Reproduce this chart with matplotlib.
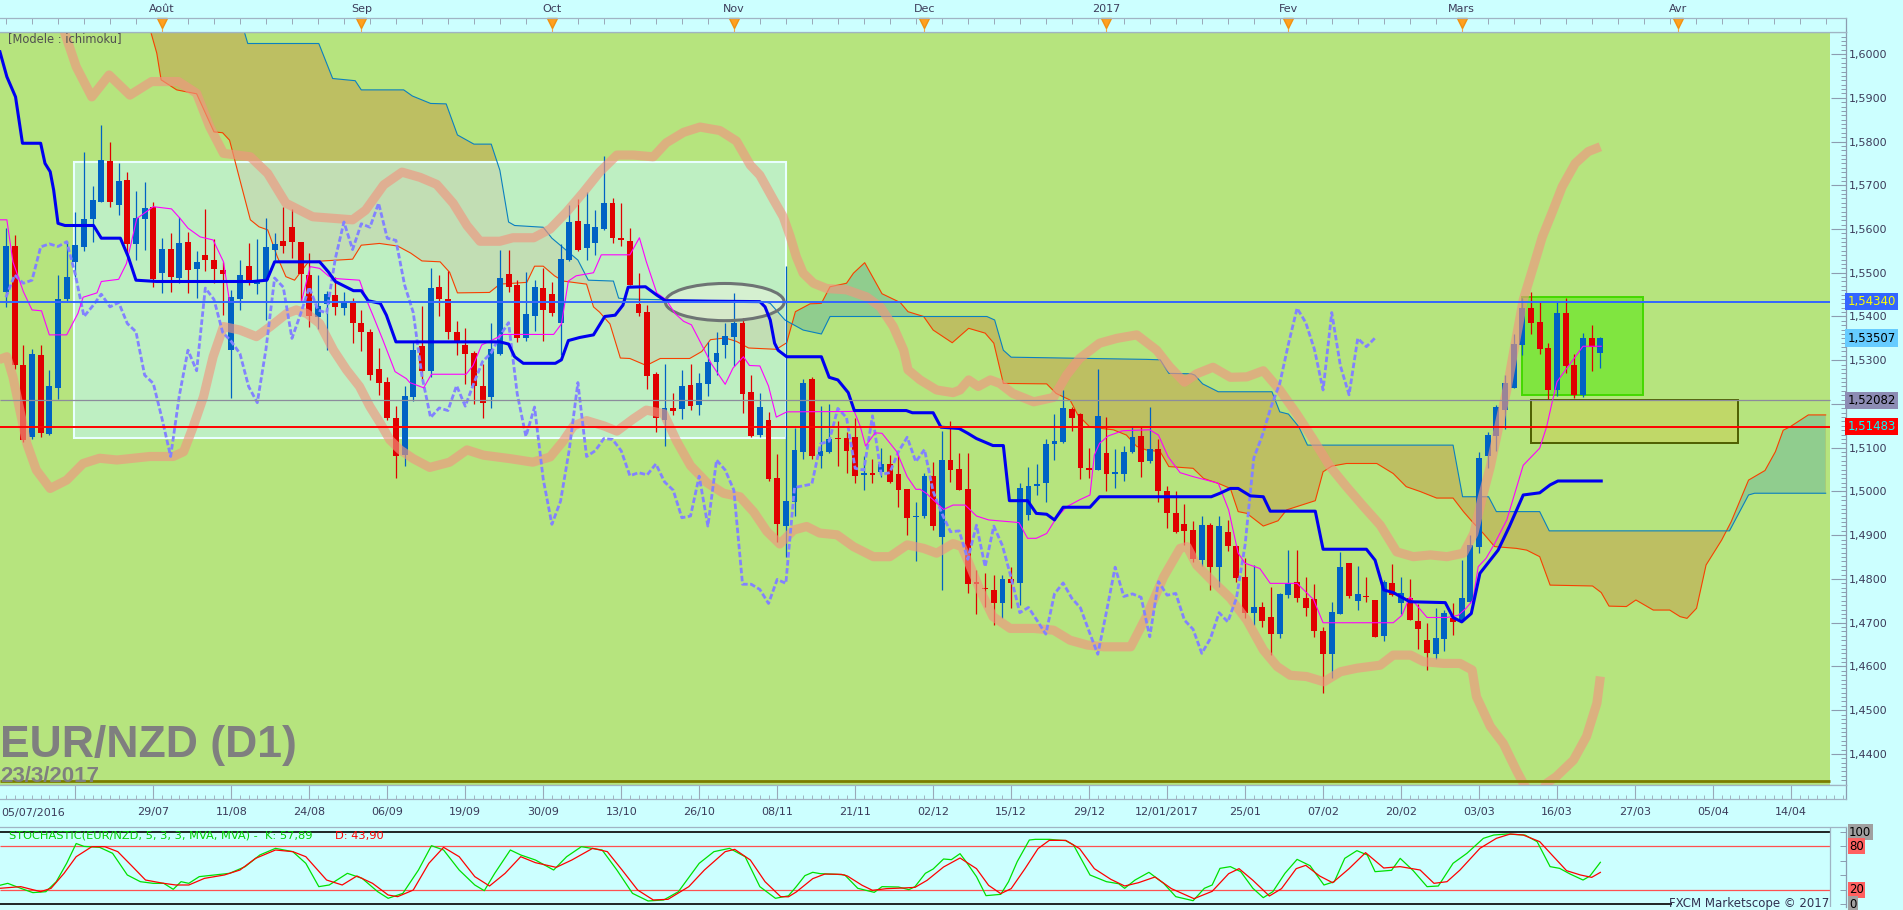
import numpy as np
import matplotlib
matplotlib.use("Agg")
import matplotlib.pyplot as plt
import matplotlib.transforms as mtransforms
from matplotlib.patches import Rectangle, Ellipse, Polygon
from matplotlib.ticker import MultipleLocator, FixedLocator, FuncFormatter

W, H = 1903, 910

# daily candles, bar 0 = 06/07/2016 ... bar 184 = 23/03/2017
opens = [1.5457, 1.5561, 1.5289, 1.5125, 1.5312, 1.5131, 1.5236, 1.5439, 1.5525, 1.5558,
         1.5622, 1.5662, 1.5756, 1.5656, 1.5712, 1.5566, 1.5624, 1.5650, 1.5499, 1.5554,
         1.5489, 1.5570, 1.5509, 1.5541, 1.5528, 1.5506, 1.5323, 1.5441, 1.5515, 1.5474,
         1.5483, 1.5553, 1.5573, 1.5605, 1.5570, 1.5495, 1.5398, 1.5429, 1.5448, 1.5420,
         1.5430, 1.5384, 1.5364, 1.5280, 1.5251, 1.5169, 1.5083, 1.5217, 1.5333, 1.5276,
         1.5467, 1.5439, 1.5364, 1.5335, 1.5317, 1.5242, 1.5215, 1.5315, 1.5496, 1.5471,
         1.5351, 1.5400, 1.5465, 1.5451, 1.5386, 1.5530, 1.5619, 1.5556, 1.5567, 1.5600,
         1.5659, 1.5579, 1.5573, 1.5429, 1.5410, 1.5268, 1.5164, 1.5190, 1.5189, 1.5244,
         1.5197, 1.5246, 1.5297, 1.5334, 1.5352, 1.5386, 1.5227, 1.5128, 1.5164, 1.5030,
         1.4921, 1.4977, 1.5091, 1.5258, 1.5080, 1.5091, 1.5123, 1.5123, 1.5124, 1.5038,
         1.5042, 1.5045, 1.5063, 1.5041, 1.5006, 1.4942, 1.4944, 1.5035, 1.4895, 1.5072,
         1.5051, 1.5006, 1.4792, 1.4780, 1.4775, 1.4746, 1.4799, 1.4790, 1.4946, 1.5013,
         1.5019, 1.5108, 1.5114, 1.5188, 1.5177, 1.5054, 1.5049, 1.5089, 1.5041, 1.5040,
         1.5091, 1.5127, 1.5070, 1.5096, 1.5001, 1.4950, 1.4925, 1.4912, 1.4843, 1.4923,
         1.4828, 1.4908, 1.4876, 1.4805, 1.4723, 1.4737, 1.4714, 1.4674, 1.4763, 1.4794,
         1.4757, 1.4754, 1.4682, 1.4628, 1.4721, 1.4837, 1.4750, 1.4760, 1.4751, 1.4670,
         1.4791, 1.4744, 1.4756, 1.4705, 1.4660, 1.4628, 1.4663, 1.4711, 1.4706, 1.4748,
         1.4874, 1.5080, 1.5127, 1.5186, 1.5236, 1.5335, 1.5419, 1.5388, 1.5329, 1.5232,
         1.5409, 1.5289, 1.5221, 1.5350, 1.5317]
highs = [1.5602, 1.5586, 1.5335, 1.5325, 1.5335, 1.5278, 1.5495, 1.5573, 1.5640, 1.5775,
         1.5698, 1.5838, 1.5800, 1.5750, 1.5730, 1.5688, 1.5707, 1.5662, 1.5579, 1.5590,
         1.5627, 1.5592, 1.5549, 1.5645, 1.5578, 1.5525, 1.5461, 1.5528, 1.5567, 1.5576,
         1.5626, 1.5590, 1.5650, 1.5646, 1.5570, 1.5544, 1.5495, 1.5458, 1.5491, 1.5457,
         1.5443, 1.5415, 1.5372, 1.5327, 1.5262, 1.5195, 1.5242, 1.5341, 1.5423, 1.5510,
         1.5494, 1.5504, 1.5390, 1.5374, 1.5321, 1.5291, 1.5384, 1.5551, 1.5553, 1.5484,
         1.5502, 1.5484, 1.5510, 1.5478, 1.5565, 1.5656, 1.5669, 1.5685, 1.5644, 1.5766,
         1.5671, 1.5659, 1.5603, 1.5500, 1.5426, 1.5274, 1.5292, 1.5225, 1.5278, 1.5291,
         1.5271, 1.5341, 1.5364, 1.5384, 1.5453, 1.5396, 1.5266, 1.5225, 1.5181, 1.5085,
         1.5515, 1.5146, 1.5257, 1.5261, 1.5195, 1.5199, 1.5162, 1.5137, 1.5167, 1.5080,
         1.5074, 1.5099, 1.5083, 1.5083, 1.5006, 1.4977, 1.5042, 1.5067, 1.5138, 1.5162,
         1.5087, 1.5089, 1.4820, 1.4814, 1.4809, 1.4809, 1.4828, 1.5020, 1.5057, 1.5063,
         1.5119, 1.5177, 1.5233, 1.5192, 1.5179, 1.5099, 1.5279, 1.5171, 1.5097, 1.5103,
         1.5148, 1.5148, 1.5192, 1.5119, 1.5012, 1.5002, 1.4971, 1.4933, 1.4944, 1.4927,
         1.4944, 1.4935, 1.4878, 1.4847, 1.4832, 1.4748, 1.4782, 1.4767, 1.4866, 1.4866,
         1.4805, 1.4788, 1.4691, 1.4748, 1.4862, 1.4837, 1.4829, 1.4804, 1.4751, 1.4798,
         1.4834, 1.4805, 1.4799, 1.4743, 1.4699, 1.4733, 1.4730, 1.4746, 1.4843, 1.4901,
         1.5091, 1.5137, 1.5198, 1.5266, 1.5361, 1.5442, 1.5457, 1.5432, 1.5340, 1.5434,
         1.5442, 1.5314, 1.5363, 1.5381, 1.5352]
lows = [1.5422, 1.5281, 1.5114, 1.5119, 1.5125, 1.5129, 1.5212, 1.5432, 1.5491, 1.5550,
        1.5571, 1.5662, 1.5651, 1.5633, 1.5543, 1.5528, 1.5552, 1.5468, 1.5454, 1.5457,
        1.5476, 1.5453, 1.5442, 1.5505, 1.5476, 1.5403, 1.5213, 1.5415, 1.5472, 1.5451,
        1.5392, 1.5529, 1.5544, 1.5533, 1.5432, 1.5375, 1.5371, 1.5323, 1.5403, 1.5403,
        1.5340, 1.5322, 1.5255, 1.5220, 1.5163, 1.5030, 1.5058, 1.5207, 1.5258, 1.5262,
        1.5400, 1.5349, 1.5313, 1.5246, 1.5199, 1.5168, 1.5191, 1.5313, 1.5455, 1.5341,
        1.5345, 1.5366, 1.5343, 1.5400, 1.5313, 1.5526, 1.5549, 1.5530, 1.5541, 1.5598,
        1.5569, 1.5561, 1.5471, 1.5400, 1.5234, 1.5136, 1.5105, 1.5175, 1.5165, 1.5187,
        1.5175, 1.5219, 1.5266, 1.5305, 1.5286, 1.5179, 1.5124, 1.5124, 1.5023, 1.4884,
        1.4850, 1.4945, 1.5075, 1.5075, 1.5053, 1.5087, 1.5058, 1.5043, 1.5019, 1.5004,
        1.5020, 1.5034, 1.5019, 1.4964, 1.4901, 1.4842, 1.4939, 1.4913, 1.4775, 1.5022,
        1.5003, 1.4767, 1.4721, 1.4737, 1.4695, 1.4710, 1.4733, 1.4741, 1.4935, 1.4992,
        1.4977, 1.5073, 1.5110, 1.5138, 1.5028, 1.5030, 1.5048, 1.5002, 1.5007, 1.5023,
        1.5087, 1.5034, 1.5064, 1.4975, 1.4916, 1.4904, 1.4878, 1.4839, 1.4830, 1.4775,
        1.4782, 1.4865, 1.4794, 1.4710, 1.4695, 1.4691, 1.4626, 1.4664, 1.4756, 1.4748,
        1.4715, 1.4668, 1.4539, 1.4573, 1.4720, 1.4756, 1.4729, 1.4748, 1.4667, 1.4659,
        1.4761, 1.4721, 1.4706, 1.4639, 1.4592, 1.4617, 1.4636, 1.4672, 1.4702, 1.4746,
        1.4859, 1.5053, 1.5093, 1.5142, 1.5236, 1.5312, 1.5361, 1.5314, 1.5211, 1.5218,
        1.5271, 1.5213, 1.5215, 1.5276, 1.5282]
closes = [1.5561, 1.5289, 1.5118, 1.5314, 1.5134, 1.5240, 1.5439, 1.5491, 1.5563, 1.5622,
          1.5666, 1.5758, 1.5662, 1.5710, 1.5566, 1.5626, 1.5647, 1.5486, 1.5555, 1.5491,
          1.5567, 1.5506, 1.5525, 1.5528, 1.5508, 1.5497, 1.5444, 1.5495, 1.5476, 1.5483,
          1.5559, 1.5566, 1.5560, 1.5571, 1.5496, 1.5400, 1.5424, 1.5451, 1.5422, 1.5432,
          1.5384, 1.5365, 1.5266, 1.5247, 1.5167, 1.5080, 1.5219, 1.5323, 1.5276, 1.5465,
          1.5439, 1.5364, 1.5343, 1.5315, 1.5240, 1.5203, 1.5325, 1.5488, 1.5467, 1.5350,
          1.5406, 1.5467, 1.5415, 1.5408, 1.5532, 1.5616, 1.5553, 1.5612, 1.5604, 1.5659,
          1.5579, 1.5574, 1.5472, 1.5409, 1.5264, 1.5169, 1.5191, 1.5185, 1.5242, 1.5195,
          1.5248, 1.5297, 1.5317, 1.5356, 1.5386, 1.5223, 1.5126, 1.5193, 1.5028, 1.4925,
          1.4978, 1.5095, 1.5249, 1.5080, 1.5093, 1.5121, 1.5119, 1.5093, 1.5036, 1.5043,
          1.5038, 1.5063, 1.5022, 1.5003, 1.4940, 1.4944, 1.5035, 1.4921, 1.5072, 1.5049,
          1.5003, 1.4788, 1.4788, 1.4776, 1.4744, 1.4799, 1.4790, 1.5009, 1.5013, 1.5017,
          1.5109, 1.5115, 1.5190, 1.5169, 1.5053, 1.5049, 1.5173, 1.5039, 1.5043, 1.5091,
          1.5124, 1.5068, 1.5096, 1.5000, 1.4950, 1.4908, 1.4910, 1.4845, 1.4923, 1.4828,
          1.4921, 1.4876, 1.4803, 1.4723, 1.4735, 1.4705, 1.4674, 1.4766, 1.4791, 1.4756,
          1.4734, 1.4680, 1.4628, 1.4725, 1.4827, 1.4760, 1.4766, 1.4758, 1.4668, 1.4794,
          1.4763, 1.4767, 1.4706, 1.4685, 1.4630, 1.4664, 1.4723, 1.4702, 1.4756, 1.4878,
          1.5076, 1.5129, 1.5194, 1.5247, 1.5337, 1.5419, 1.5386, 1.5325, 1.5232, 1.5409,
          1.5287, 1.5221, 1.5350, 1.5331, 1.5351]

# ichimoku lines, (bar, price) vertices
kijun = [(-0.7, 1.6005), (0.1, 1.5948), (1.1, 1.5902), (1.9, 1.5796), (4.0, 1.5796), (4.5, 1.5750),
         (5.1, 1.5731), (5.5, 1.5689), (6.0, 1.5613), (6.8, 1.5608), (10.1, 1.5608), (11.0, 1.5579),
         (13.2, 1.5579), (14.1, 1.5537), (15.0, 1.5483), (17.4, 1.5480), (28.5, 1.5480), (30.1, 1.5483),
         (31.0, 1.5525), (36.2, 1.5525), (37.2, 1.5502), (38.0, 1.5480), (40.1, 1.5459), (41.0, 1.5459),
         (41.8, 1.5436), (43.2, 1.5430), (43.9, 1.5403), (45.0, 1.5342), (57.0, 1.5342), (58.0, 1.5337),
         (58.7, 1.5308), (59.7, 1.5293), (63.4, 1.5293), (64.1, 1.5301), (64.9, 1.5345), (66.2, 1.5352),
         (67.8, 1.5358), (69.1, 1.5400), (70.3, 1.5403), (71.2, 1.5426), (71.8, 1.5467), (73.8, 1.5468),
         (75.1, 1.5449), (76.1, 1.5436),
         (87.0, 1.5434), (87.6, 1.5422), (88.2, 1.5392), (88.7, 1.5339), (89.1, 1.5323), (90.1, 1.5308),
         (94.1, 1.5308), (95.0, 1.5261), (96.0, 1.5255), (97.2, 1.5226), (97.9, 1.5185), (103.9, 1.5185),
         (104.6, 1.5180), (107.0, 1.5180), (107.9, 1.5147), (110.0, 1.5144), (111.0, 1.5133),
         (112.0, 1.5121), (113.9, 1.5105), (115.1, 1.5105), (115.8, 1.4979), (117.9, 1.4979),
         (118.9, 1.4950), (120.1, 1.4948), (121.0, 1.4935), (122.0, 1.4964), (125.1, 1.4964),
         (126.2, 1.4988), (139.1, 1.4988), (140.1, 1.4996), (141.3, 1.5007), (142.2, 1.5007),
         (143.6, 1.4990), (145.1, 1.4988), (145.9, 1.4955), (151.1, 1.4955), (152.0, 1.4868),
         (157.0, 1.4868), (158.0, 1.4843), (159.0, 1.4775), (160.1, 1.4769), (162.0, 1.4748),
         (166.1, 1.4746), (167.0, 1.4712), (168.0, 1.4702), (169.1, 1.4721), (170.1, 1.4813),
         (172.2, 1.4866), (173.5, 1.4920), (175.1, 1.4992), (177.0, 1.4997), (178.2, 1.5015),
         (179.1, 1.5024), (184.1, 1.5024)]
tenkan = [(-0.7, 1.5621), (0.1, 1.5621), (0.8, 1.5525), (2.0, 1.5457), (3.0, 1.5415), (4.1, 1.5413),
          (5.0, 1.5358), (7.0, 1.5358), (8.3, 1.5407), (8.9, 1.5444), (10.5, 1.5454), (11.0, 1.5480),
          (13.0, 1.5485), (13.9, 1.5521), (15.1, 1.5624), (17.0, 1.5651), (19.1, 1.5646), (20.1, 1.5624),
          (21.0, 1.5602), (22.4, 1.5582), (23.9, 1.5575), (25.1, 1.5525), (25.8, 1.5434), (34.1, 1.5434),
          (35.1, 1.5514), (36.2, 1.5510), (37.2, 1.5493), (37.8, 1.5487), (40.8, 1.5483), (41.6, 1.5438),
          (42.4, 1.5400), (43.5, 1.5346), (44.9, 1.5274), (46.2, 1.5258), (46.6, 1.5249), (48.2, 1.5237),
          (49.1, 1.5268), (53.1, 1.5268), (53.9, 1.5288), (54.9, 1.5335), (56.2, 1.5347), (57.4, 1.5359),
          (63.2, 1.5359), (64.1, 1.5383), (64.9, 1.5481), (65.8, 1.5493), (67.8, 1.5500), (68.7, 1.5541),
          (72.0, 1.5541), (73.1, 1.5580), (73.9, 1.5525), (75.1, 1.5454), (76.2, 1.5438), (77.2, 1.5407),
          (78.2, 1.5389), (79.1, 1.5381), (80.3, 1.5335), (81.4, 1.5292), (83.0, 1.5245), (83.9, 1.5282),
          (85.1, 1.5308), (85.8, 1.5288), (87.0, 1.5287), (88.0, 1.5241), (88.9, 1.5170), (90.1, 1.5182),
          (97.9, 1.5183), (98.6, 1.5148), (99.2, 1.5104), (100.3, 1.5134), (101.1, 1.5133),
          (102.8, 1.5091), (104.0, 1.5034), (105.0, 1.5005), (105.5, 1.5005), (106.2, 1.4996),
          (108.2, 1.4959), (109.3, 1.4969), (110.7, 1.4969), (112.0, 1.4944), (113.4, 1.4935),
          (116.9, 1.4929), (117.9, 1.4893), (118.9, 1.4893), (120.1, 1.4904), (121.2, 1.4939),
          (122.4, 1.4965), (123.9, 1.4981), (125.1, 1.4992), (125.6, 1.5083), (126.2, 1.5110),
          (127.2, 1.5127), (128.9, 1.5139), (132.0, 1.5141), (133.0, 1.5129), (134.1, 1.5080),
          (135.5, 1.5043), (137.0, 1.5034), (139.9, 1.5019), (141.1, 1.4958), (142.2, 1.4859),
          (143.0, 1.4836), (144.7, 1.4824), (145.9, 1.4790), (149.0, 1.4790), (150.9, 1.4753),
          (152.0, 1.4700), (160.1, 1.4700), (161.1, 1.4717), (162.0, 1.4759), (164.0, 1.4712),
          (166.3, 1.4712), (167.6, 1.4717), (168.5, 1.4733), (169.3, 1.4752), (169.9, 1.4828),
          (170.8, 1.4847), (171.8, 1.4881), (173.2, 1.4935), (173.9, 1.4981), (175.1, 1.5060),
          (177.0, 1.5099), (177.8, 1.5148), (178.4, 1.5201), (179.0, 1.5251), (180.1, 1.5281),
          (182.0, 1.5332), (184.1, 1.5332)]
senkou_a = [(-0.7, 1.6400), (10.0, 1.6250), (16.7, 1.6051), (17.4, 1.6002), (17.9, 1.5941), (19.7, 1.5918),
            (22.0, 1.5909), (24.0, 1.5822), (25.0, 1.5820), (25.8, 1.5803), (27.1, 1.5704), (28.2, 1.5621),
            (29.2, 1.5605), (30.2, 1.5598), (31.3, 1.5537), (32.3, 1.5491), (33.3, 1.5483), (34.9, 1.5525),
            (40.0, 1.5531), (41.0, 1.5563), (43.1, 1.5567), (45.2, 1.5561), (46.7, 1.5545), (48.0, 1.5527),
            (50.1, 1.5525), (51.2, 1.5501), (52.1, 1.5454), (55.8, 1.5455), (57.0, 1.5474), (60.1, 1.5478),
            (61.0, 1.5515), (62.0, 1.5515), (63.3, 1.5493), (64.3, 1.5481), (67.0, 1.5474), (67.8, 1.5422),
            (68.5, 1.5410), (69.7, 1.5383), (70.9, 1.5305), (72.0, 1.5304), (73.9, 1.5288), (75.5, 1.5304),
            (78.9, 1.5304), (80.3, 1.5320), (81.3, 1.5347), (83.0, 1.5351), (84.3, 1.5343), (85.7, 1.5328),
            (88.9, 1.5325), (90.1, 1.5340), (91.1, 1.5411), (92.8, 1.5429), (94.1, 1.5430), (95.1, 1.5468),
            (97.0, 1.5476), (97.8, 1.5499), (99.1, 1.5523), (101.1, 1.5452), (103.2, 1.5432),
            (104.1, 1.5411), (105.9, 1.5400), (107.0, 1.5369), (109.2, 1.5340), (111.1, 1.5373),
            (113.0, 1.5362), (114.0, 1.5339), (115.1, 1.5247), (120.1, 1.5246), (121.2, 1.5224),
            (122.8, 1.5209), (123.7, 1.5175), (125.1, 1.5147), (127.8, 1.5141), (129.3, 1.5129),
            (130.5, 1.5103), (131.6, 1.5095), (133.2, 1.5091), (134.2, 1.5057), (137.0, 1.5053),
            (138.2, 1.5030), (140.1, 1.5017), (141.3, 1.5007), (142.2, 1.4954), (143.2, 1.4950),
            (145.1, 1.4921), (146.8, 1.4933), (147.8, 1.4958), (151.1, 1.4979), (152.0, 1.5045),
            (153.0, 1.5058), (154.7, 1.5064), (158.2, 1.5064), (160.1, 1.5041), (161.6, 1.5011),
            (163.2, 1.5000), (165.1, 1.4985), (167.0, 1.4985), (168.2, 1.4954), (169.3, 1.4929),
            (170.5, 1.4904), (171.8, 1.4874), (174.3, 1.4870), (175.5, 1.4866), (177.0, 1.4851),
            (178.2, 1.4786), (183.1, 1.4784), (184.1, 1.4769), (185.0, 1.4738), (187.0, 1.4737),
            (188.1, 1.4752), (190.1, 1.4729), (192.0, 1.4729), (193.2, 1.4714), (194.0, 1.4710),
            (195.1, 1.4733), (196.2, 1.4832), (198.0, 1.4889), (199.1, 1.4931), (201.1, 1.5026),
            (203.0, 1.5048), (204.2, 1.5091), (205.1, 1.5140), (205.9, 1.5148), (208.0, 1.5175),
            (210.0, 1.5175)]
senkou_b = [(-0.7, 1.6600), (27.5, 1.6051), (27.9, 1.6024), (36.1, 1.6024), (37.7, 1.5944), (40.3, 1.5939),
            (41.0, 1.5918), (45.9, 1.5918), (46.9, 1.5904), (49.0, 1.5887), (50.8, 1.5886), (52.1, 1.5815),
            (54.0, 1.5794), (56.0, 1.5794), (57.0, 1.5734), (58.0, 1.5616), (58.7, 1.5608), (62.0, 1.5604),
            (63.0, 1.5579), (66.0, 1.5529), (67.2, 1.5483), (70.1, 1.5481), (70.7, 1.5442), (71.5, 1.5440),
            (87.5, 1.5434), (88.2, 1.5430), (89.9, 1.5392), (92.0, 1.5369), (94.1, 1.5360), (95.1, 1.5400),
            (113.2, 1.5400), (114.1, 1.5392), (115.1, 1.5323), (116.0, 1.5307), (131.6, 1.5302),
            (133.2, 1.5301), (134.2, 1.5270), (136.8, 1.5269), (137.2, 1.5266), (138.1, 1.5246),
            (139.9, 1.5228), (146.1, 1.5228), (147.0, 1.5182), (148.0, 1.5177), (149.2, 1.5148),
            (150.2, 1.5106), (167.0, 1.5106), (168.1, 1.4988), (171.1, 1.4988), (172.0, 1.4954),
            (177.0, 1.4954), (178.1, 1.4910), (198.9, 1.4910), (201.1, 1.4992), (201.8, 1.4996),
            (210.0, 1.4996)]

# the two thick salmon envelope bands
band_up = [(-1.0, 1.6300), (4.0, 1.6180), (6.8, 1.6047), (8.1, 1.5971), (9.9, 1.5902), (11.9, 1.5952),
           (14.3, 1.5906), (16.8, 1.5937), (19.9, 1.5937), (22.0, 1.5910), (23.5, 1.5834), (25.1, 1.5773),
           (28.2, 1.5765), (30.2, 1.5727), (32.3, 1.5659), (35.4, 1.5628), (40.0, 1.5621), (41.5, 1.5643),
           (43.6, 1.5701), (45.7, 1.5730), (47.8, 1.5718), (49.7, 1.5702), (51.6, 1.5659), (53.2, 1.5608),
           (54.7, 1.5572), (57.0, 1.5572), (58.5, 1.5580), (60.9, 1.5580), (62.8, 1.5600), (64.7, 1.5639),
           (66.6, 1.5683), (68.5, 1.5730), (70.5, 1.5769), (72.4, 1.5769), (74.7, 1.5765), (76.2, 1.5797),
           (78.2, 1.5821), (80.1, 1.5833), (82.4, 1.5825), (84.3, 1.5801), (85.9, 1.5746), (87.0, 1.5723),
           (88.6, 1.5666), (89.7, 1.5628), (90.5, 1.5583), (91.2, 1.5537), (92.0, 1.5499), (93.2, 1.5476),
           (94.7, 1.5464), (97.0, 1.5461), (99.3, 1.5445), (100.9, 1.5422), (102.4, 1.5377),
           (103.6, 1.5323), (104.1, 1.5278), (105.5, 1.5255), (107.4, 1.5232), (109.3, 1.5226),
           (110.1, 1.5232), (111.1, 1.5255), (112.2, 1.5240), (113.6, 1.5255), (114.7, 1.5247),
           (116.2, 1.5224), (118.6, 1.5205), (120.9, 1.5215), (122.4, 1.5266), (123.9, 1.5304),
           (126.2, 1.5339), (128.2, 1.5350), (130.5, 1.5358), (132.8, 1.5323), (134.3, 1.5285),
           (136.0, 1.5250), (137.4, 1.5269), (139.3, 1.5284), (141.3, 1.5261), (143.2, 1.5262),
           (145.1, 1.5276), (147.0, 1.5232), (148.9, 1.5179), (150.9, 1.5118), (152.8, 1.5057),
           (154.7, 1.5011), (156.7, 1.4965), (158.6, 1.4923), (160.5, 1.4862), (162.4, 1.4851),
           (164.4, 1.4855), (166.3, 1.4851), (168.2, 1.4859), (169.4, 1.4904), (170.3, 1.4981),
           (171.3, 1.5057), (172.2, 1.5141), (173.2, 1.5232), (174.1, 1.5331), (175.1, 1.5438),
           (176.5, 1.5529), (177.3, 1.5582), (178.4, 1.5636), (179.6, 1.5697), (181.1, 1.5750),
           (182.6, 1.5777), (184.0, 1.5788)]
band_dn = [(-1.0, 1.5300), (0.1, 1.5308), (0.8, 1.5262), (1.6, 1.5186), (2.4, 1.5110), (3.5, 1.5049),
           (5.1, 1.5007), (7.0, 1.5026), (8.9, 1.5064), (10.8, 1.5076), (12.8, 1.5072), (14.7, 1.5076),
           (16.6, 1.5080), (19.3, 1.5080), (20.5, 1.5091), (21.6, 1.5148), (22.8, 1.5217), (23.9, 1.5308),
           (25.1, 1.5377), (27.0, 1.5369), (28.9, 1.5354), (30.5, 1.5377), (32.4, 1.5407), (33.5, 1.5415),
           (34.7, 1.5407), (36.2, 1.5384), (37.8, 1.5323), (39.3, 1.5278), (40.8, 1.5240), (42.0, 1.5194),
           (43.2, 1.5156), (44.3, 1.5118), (45.5, 1.5095), (47.0, 1.5075), (48.9, 1.5055), (51.2, 1.5067),
           (53.2, 1.5095), (55.1, 1.5083), (58.2, 1.5075), (60.8, 1.5067), (62.8, 1.5079), (64.3, 1.5115),
           (65.5, 1.5150), (67.0, 1.5162), (69.0, 1.5150), (70.5, 1.5138), (72.4, 1.5166), (73.9, 1.5186),
           (75.9, 1.5178), (77.4, 1.5115), (79.0, 1.5059), (80.9, 1.5020), (82.8, 1.4996), (84.7, 1.4988),
           (86.3, 1.4953), (87.8, 1.4909), (89.3, 1.4880), (90.9, 1.4912), (92.4, 1.4920), (93.9, 1.4905),
           (95.9, 1.4901), (97.8, 1.4874), (100.1, 1.4851), (102.0, 1.4851), (104.0, 1.4878),
           (105.9, 1.4870), (107.4, 1.4859), (109.3, 1.4881), (110.3, 1.4874), (111.3, 1.4828),
           (112.4, 1.4775), (113.9, 1.4714), (115.9, 1.4687), (118.6, 1.4687), (120.9, 1.4683),
           (122.8, 1.4660), (124.8, 1.4649), (126.7, 1.4645), (129.8, 1.4645), (131.6, 1.4714),
           (133.6, 1.4805), (135.5, 1.4870), (136.3, 1.4874), (137.4, 1.4832), (139.3, 1.4794),
           (141.3, 1.4756), (143.2, 1.4706), (145.1, 1.4638), (146.7, 1.4600), (148.2, 1.4580),
           (150.1, 1.4577), (152.1, 1.4565), (154.0, 1.4588), (155.9, 1.4596), (158.6, 1.4603),
           (160.1, 1.4626), (162.1, 1.4626), (163.6, 1.4611), (165.9, 1.4607), (167.8, 1.4607),
           (169.2, 1.4592), (169.7, 1.4531), (171.3, 1.4463), (172.8, 1.4424), (174.3, 1.4363),
           (175.1, 1.4333), (176.5, 1.4290), (177.8, 1.4333), (178.9, 1.4348), (180.9, 1.4386),
           (182.4, 1.4440), (183.6, 1.4516), (184.0, 1.4577)]

# stochastic %K / %D, (bar, value) vertices
stoch_k = [(-0.7, 26), (0.2, 28.7), (1.7, 21.8), (3.1, 15.8), (4.6, 17.1), (5.8, 31.0), (7.0, 56.5),
           (8.1, 84), (9.0, 80), (10.8, 78.7), (12.3, 70.4), (14.0, 40.3), (15.5, 31.0), (17.0, 28.7),
           (18.2, 28.7), (19.3, 20.4), (20.2, 31.0), (21.1, 28.7), (22.3, 38), (24.0, 40.3), (25.8, 42.6),
           (27.6, 51.9), (29.3, 68.1), (31.1, 77.3), (33.1, 72.7), (34.6, 56.5), (36.1, 24.1), (37.3, 26.4),
           (39.4, 42.6), (41.1, 35.6), (42.9, 17.1), (44.1, 7.9), (45.8, 14.8), (47.6, 47.2), (49.1, 81),
           (50.5, 75.0), (52.3, 47.2), (54.1, 26.4), (55.2, 18.5), (56.4, 42.6), (58.2, 75), (59.4, 68.1),
           (61.1, 61.1), (63.2, 47.2), (64.7, 65.7), (66.4, 79.6), (68.8, 75), (70.5, 47.2), (72.3, 14.8),
           (74.1, 4.2), (75.9, 5.6), (77.6, 17.1), (80.0, 56.5), (81.7, 72.7), (83.5, 77.3), (85.3, 65.7),
           (87.0, 24.1), (88.8, 7.9), (90.3, 11.4), (91.2, 24.1), (92.2, 39.4), (93.1, 44.0), (94.0, 42.1),
           (95.9, 41.2), (96.8, 40.3), (98.3, 21.8), (100.2, 16.2), (101.1, 24.1), (103.0, 23.6),
           (104.2, 19.9), (104.9, 24.1), (106.1, 42.6), (107.0, 48.6), (108.2, 62.5), (109.1, 61.6),
           (110.1, 69.9), (110.8, 58.8), (112.0, 38.0), (113.1, 11.6), (114.8, 13.4), (115.7, 31.0),
           (116.7, 58.8), (118.1, 88.9), (118.8, 89.8), (120.4, 89.8), (122.3, 88.0), (123.2, 81.9),
           (125.1, 40.3), (127.0, 31.0), (128.4, 28.2), (129.1, 21.8), (130.3, 33.3), (131.9, 44.0),
           (133.6, 28.7), (135.0, 10.2), (137.0, 4.6), (138.3, 21.8), (139.2, 26.4), (140.1, 49.5),
           (141.3, 51.9), (142.5, 44.9), (143.9, 21.8), (145.1, 8.8), (146.2, 17.1), (147.6, 42.6),
           (149.0, 62.0), (150.5, 53.2), (152.1, 26.4), (153.3, 31.0), (154.5, 63.4), (155.9, 74.1),
           (157.1, 68.1), (158.0, 44.9), (159.9, 46.8), (160.9, 63.4), (162.4, 46.3), (164.0, 24.1),
           (165.3, 25.0), (167.0, 56.5), (168.6, 70.4), (170.5, 91.2), (171.7, 95.8), (173.2, 97.2),
           (175.3, 95.8), (176.7, 86.6), (178.2, 51.9), (179.3, 49.5), (180.5, 41.7), (182.0, 33.3),
           (182.8, 38.9), (184.0, 57.9)]
stoch_d = [(-0.7, 21.8), (1.7, 24.1), (4.0, 17.1), (5.2, 21.8), (6.7, 42.6), (8.1, 65.7), (9.9, 79.6),
           (11.4, 79.6), (12.9, 72.7), (14.6, 51.9), (16.1, 33.3), (18.2, 28.7), (19.6, 26.4), (21.1, 26.4),
           (22.9, 35.6), (25.2, 40.3), (27.0, 47.2), (28.8, 63.4), (31.1, 75.0), (33.1, 72.7), (34.6, 65.7),
           (37.0, 33.3), (38.8, 26.4), (40.5, 38.9), (42.3, 28.7), (44.1, 12.5), (45.2, 10.2), (47.0, 19.4),
           (48.8, 56.5), (50.5, 78.7), (52.3, 65.7), (54.1, 38.0), (55.8, 25.0), (57.6, 42.6), (59.4, 65.7),
           (61.1, 57.4), (63.5, 50.9), (65.3, 61.1), (67.7, 77.3), (69.4, 72.7), (71.1, 47.2), (72.9, 19.4),
           (74.7, 5.6), (76.4, 6.5), (78.8, 24.1), (80.6, 47.2), (83.0, 72.7), (84.1, 75.9), (85.9, 61.1),
           (87.6, 31.0), (89.4, 10.2), (90.3, 10.0), (91.2, 16.7), (93.1, 35.2), (94.5, 41.6), (96.4, 41.2),
           (97.1, 38.9), (98.8, 26.0), (100.0, 19.0), (101.6, 21.3), (103.5, 22.2), (104.9, 23.1),
           (106.3, 32.9), (108.2, 51.4), (110.1, 63.9), (112.0, 49.1), (113.4, 25.9), (114.8, 14.4),
           (116.0, 21.3), (117.6, 49.1), (119.1, 76.9), (120.4, 88.4), (122.3, 88.4), (123.9, 76.9),
           (125.6, 49.1), (127.5, 34.3), (129.1, 25.0), (130.7, 29.6), (132.6, 37.5), (134.5, 21.3),
           (137.1, 7.4), (139.2, 17.6), (141.1, 42.1), (142.3, 49.1), (143.9, 32.9), (145.8, 11.1),
           (147.2, 21.3), (148.9, 49.1), (150.0, 53.7), (151.6, 38.9), (153.1, 29.6), (155.0, 49.1),
           (156.9, 71.3), (159.0, 50.0), (160.9, 51.9), (163.2, 47.2), (164.8, 28.7), (166.3, 31.0),
           (167.8, 47.2), (170.1, 77.3), (172.0, 91.2), (173.6, 97.2), (175.1, 95.8), (177.0, 86.6),
           (178.6, 65.7), (180.1, 46.3), (181.7, 40.3), (183.0, 37.0), (184.0, 43.9)]

# drawings on the chart
hline_blue = 1.54340
hline_red = 1.51483
hline_gray = 1.52082
last_price = 1.53507
big_zone = (7.85, 90.0, 1.5122, 1.5754)     # bar from, bar to, price low, price high
green_zone = (175.0, 188.9, 1.5221, 1.5445)
olive_zone = (176.0, 199.9, 1.5110, 1.5208)
ellipse_zone = (82.95, 1.5433, 13.7, 0.0085)  # centre bar, centre price, width, height

date_labels = ['29/07', '11/08', '24/08', '06/09', '19/09', '30/09', '13/10', '26/10', '08/11',
               '21/11', '02/12', '15/12', '29/12', '12/01/2017', '25/01', '07/02', '20/02',
               '03/03', '16/03', '27/03', '05/04', '14/04']
date_bars = list(range(17, 207, 9))
month_labels = ['Août', 'Sep', 'Oct', 'Nov', 'Dec', '2017', 'Fev', 'Mars', 'Avr']
month_bars = [18, 41, 63, 84, 106, 127, 148, 168, 193]

# colours
CYAN = '#CCFFFF'
BG = '#B6E47E'
OLIVE = '#BDBF62'
CLOUD_GREEN = '#90CD8E'
BLUE_C = '#0062C4'
RED_C = '#E00000'
TXT = '#3C3C5A'
EDGE = '#A0B4C4'


def px_x(p):
    return p / W


def px_y(p):
    return 1 - p / H


BAR0, STEP = 6.0, 8.665           # pixel of bar 0, pixels per bar
X0 = (0 - BAR0) / STEP
X1 = (1846 - BAR0) / STEP
XG = (1830 - BAR0) / STEP         # end of the green plotting area
Y0, Y1 = 1.43291, 1.60503

plt.rcParams['font.family'] = ['DejaVu Sans']

fig = plt.figure(figsize=(W / 100, H / 100), dpi=100, facecolor=CYAN)

ax = fig.add_axes([0, px_y(785), 1846 / W, (785 - 32) / H])
ax_top = fig.add_axes([0, px_y(32), 1846 / W, 14 / H])
ax_bot = fig.add_axes([0, px_y(799), 1846 / W, 14 / H])
ax_st = fig.add_axes([0, px_y(907), 1846 / W, 80 / H])

for a in (ax, ax_top, ax_bot, ax_st):
    a.set_facecolor(CYAN)
    a.set_xlim(X0, X1)
    for s in a.spines.values():
        s.set_color(EDGE)
        s.set_linewidth(0.9)
    a.spines['left'].set_visible(False)

# ---------------- main price panel ----------------
ax.set_ylim(Y0, Y1)
ax.add_patch(Rectangle((X0, Y0), XG - X0, Y1 - Y0, fc=BG, ec='none', zorder=0))

sa = np.array(senkou_a)
sb = np.array(senkou_b)
cloud = np.vstack([sa, sb[::-1]])
ax.add_patch(Polygon(cloud, closed=True, fc=OLIVE, ec='none', zorder=1))
green_cloud = Polygon(cloud, closed=True, fc=CLOUD_GREEN, ec='none', zorder=1.1)
ax.add_patch(green_cloud)
under_a = Polygon(np.vstack([sa, [[sa[-1, 0], 1.0], [sa[0, 0], 1.0]]]), closed=True,
                  transform=ax.transData)
green_cloud.set_clip_path(under_a)

bx0, bx1, by0, by1 = big_zone
ax.add_patch(Rectangle((bx0, by0), bx1 - bx0, by1 - by0, fc=(0.78, 0.98, 1.0), alpha=0.53,
                       ec='none', zorder=2))
ax.add_patch(Rectangle((bx0, by0), bx1 - bx0, by1 - by0, fc='none', ec='#E8FFFF', lw=1.5, zorder=2.05))
ex, ey, ew, eh = ellipse_zone
ax.add_patch(Ellipse((ex, ey), ew, eh, fc='#E8F2DC', alpha=0.55, ec='none', zorder=2.1))
ax.add_patch(Ellipse((ex, ey), ew, eh, fc='none', ec='#6E7474', lw=2.2, zorder=3.6))

gx0, gx1, gy0, gy1 = green_zone
ax.add_patch(Rectangle((gx0, gy0), gx1 - gx0, gy1 - gy0, fc='#80E540', ec='#44D800', lw=1.4, zorder=2.2))
ox0, ox1, oy0, oy1 = olive_zone
ax.add_patch(Rectangle((ox0, oy0), ox1 - ox0, oy1 - oy0, fc='#C0D868', ec='#4E5E00', lw=1.4, zorder=2.2))

ax.plot(sa[:, 0], sa[:, 1], color='#F84000', lw=0.8, zorder=2.5)
ax.plot(sb[:, 0], sb[:, 1], color='#0A80C0', lw=0.8, zorder=2.5)

# candles
o = np.array(opens)
h = np.array(highs)
l = np.array(lows)
c = np.array(closes)
bars = np.arange(len(c))
col = np.where(c >= o, BLUE_C, RED_C)
ax.vlines(bars, l, h, colors=col, lw=0.9, zorder=3)
body = np.maximum(np.abs(c - o), 0.00025)
ax.bar(bars, body, bottom=np.minimum(o, c), width=0.68, color=col, lw=0, zorder=3.05)

# envelope bands
for band in (band_up, band_dn):
    b = np.array(band)
    ax.plot(b[:, 0], b[:, 1], color=(0.94, 0.59, 0.50), alpha=0.65, lw=6.6,
            solid_capstyle='butt', solid_joinstyle='round', zorder=3.5)

# chikou: closes drawn 26 bars back
ax.plot(bars[26:] - 26, c[26:], color='#8282FF', lw=2.0, dashes=(2.0, 0.9), zorder=4)
t = np.array(tenkan)
ax.plot(t[:, 0], t[:, 1], color='#FF00FF', lw=0.8, zorder=4.1)
k = np.array(kijun)
ax.plot(k[:, 0], k[:, 1], color='#0000F0', lw=2.2, zorder=4.2)

ax.hlines(hline_gray, X0, XG, color='#8C8C9C', lw=0.9, zorder=5)
ax.hlines(hline_blue, X0, XG, color='#3366FF', lw=1.4, zorder=5)
ax.hlines(hline_red, X0, XG, color='#FF0000', lw=1.4, zorder=5)
ax.hlines(1.4338, X0, XG, color='#7C7C00', lw=2, zorder=5)

ax.tick_params(axis='x', which='both', bottom=False, labelbottom=False)
ax.yaxis.tick_right()
ax.yaxis.set_major_locator(MultipleLocator(0.01))
ax.yaxis.set_minor_locator(MultipleLocator(0.001))
ax.yaxis.set_major_formatter(FuncFormatter(lambda v, pos: f"{v:.4f}".replace('.', ',')))
ax.tick_params(axis='y', which='major', direction='in', length=11, width=0.8, color='#8C9CB0',
               labelsize=8, labelcolor=TXT, pad=2)
ax.tick_params(axis='y', which='minor', direction='in', length=3.5, width=0.7, color='#8C9CB0')
ax.spines['right'].set_color('#8C9CB0')

side = mtransforms.blended_transform_factory(ax.transAxes, ax.transData)
for price, fc, tc in [(hline_blue, '#3366FF', '#FFFF00'), (last_price, '#66CCFF', '#000000'),
                      (hline_gray, '#8C8CB4', '#000000'), (hline_red, '#FF0000', '#00FFFF')]:
    ax.text(1.0 + 1.5 / 1846, price, f"{price:.5f}".replace('.', ','), transform=side,
            ha='left', va='center', fontsize=8.5, color=tc, zorder=10, clip_on=False,
            bbox=dict(boxstyle='square,pad=0.18', fc=fc, ec='none'))

# ---------------- top month ruler ----------------
ax_top.set_ylim(0, 1)
ax_top.xaxis.tick_top()
ax_top.set_yticks([])
ax_top.xaxis.set_major_locator(MultipleLocator(3))
ax_top.tick_params(axis='x', which='major', direction='in', length=4, width=0.7, color='#9AA8B8',
                   labeltop=False, labelbottom=False)
ax_top.spines['right'].set_color('#8C9CB0')
tt = mtransforms.blended_transform_factory(ax_top.transData, ax_top.transAxes)
ax_top.vlines(month_bars, 0, 0.6, color='#F6A844', lw=0.8, transform=tt)
ax_top.plot(month_bars, [0.62] * len(month_bars), 'v', ms=7.5, color='#FFA11F', mec='#F09010',
            transform=tt, clip_on=False)
for m, b in zip(month_labels, month_bars):
    ax_top.text(b, 1.64, m, transform=tt, ha='center', va='center', fontsize=8, color=TXT,
                clip_on=False)

# ---------------- bottom date ruler ----------------
ax_bot.set_ylim(0, 1)
ax_bot.set_yticks([])
ax_bot.xaxis.set_major_locator(FixedLocator([8] + date_bars))
ax_bot.set_xticklabels([''] + date_labels)
ax_bot.xaxis.set_minor_locator(MultipleLocator(1))
ax_bot.tick_params(axis='x', which='major', direction='in', length=10, width=0.8, color='#9AA8B8',
                   labelsize=8, labelcolor=TXT, pad=6)
ax_bot.tick_params(axis='x', which='minor', direction='in', length=3, width=0.6, color='#9AA8B8')
ax_bot.spines['right'].set_color('#8C9CB0')
fig.text(px_x(1), px_y(813), '05/07/2016', ha='left', va='center', fontsize=8, color=TXT)

# ---------------- stochastic panel ----------------
ax_st.set_ylim((904 - 907) / 0.72, (904 - 827) / 0.72)
ax_st.hlines([80, 20], X0, XG, color='#FF5050', lw=0.9)
ax_st.hlines(100, X0, XG, color='black', lw=1.2)
ax_st.hlines(0, X0, (1672 - BAR0) / STEP, color='black', lw=1.2)
ax_st.vlines(XG, *ax_st.get_ylim(), color=EDGE, lw=0.9)
sk = np.array(stoch_k)
sd = np.array(stoch_d)
ax_st.plot(sk[:, 0], sk[:, 1], color='#00E000', lw=0.9)
ax_st.plot(sd[:, 0], sd[:, 1], color='#FF0000', lw=0.9)
ax_st.tick_params(axis='x', which='both', bottom=False, labelbottom=False)
ax_st.yaxis.tick_right()
ax_st.set_yticks([0, 20, 40, 60, 80, 100])
ax_st.tick_params(axis='y', direction='in', length=4, width=0.7, color='#8C9CB0', labelright=False)
ax_st.spines['right'].set_color('#8C9CB0')
ax_st.spines['bottom'].set_visible(False)
st_side = mtransforms.blended_transform_factory(ax_st.transAxes, ax_st.transData)
for v, fc in [(100, '#A0A0A0'), (80, '#FF6060'), (20, '#FF6060'), (0, '#A0A0A0')]:
    ax_st.text(1.0 + 3 / 1846, v, str(v), transform=st_side, ha='left', va='center', fontsize=8.5,
               color='black', clip_on=False, bbox=dict(boxstyle='square,pad=0.12', fc=fc, ec='none'))

fig.text(px_x(9), px_y(836), 'STOCHASTIC(EUR/NZD, 5, 3, 3, MVA, MVA) -  K: 57,89', ha='left',
         va='center', fontsize=8.2, color='#00D000')
fig.text(px_x(335), px_y(836), 'D: 43,90', ha='left', va='center', fontsize=8.2, color='#FF0000')
fig.text(px_x(1829), px_y(903), 'FXCM Marketscope © 2017', ha='right', va='center', fontsize=8.5,
         color='#303050')

# ---------------- captions ----------------
fig.text(px_x(8), px_y(39), '[Modele : ichimoku]', ha='left', va='center', fontsize=8.3, color='#505050')
fig.text(px_x(0), px_y(757), 'EUR/NZD (D1)', ha='left', va='baseline', fontsize=32, fontweight='bold',
         color='#7F7F7F', family=['Liberation Sans', 'DejaVu Sans'])
fig.text(px_x(0), px_y(782), '23/3/2017', ha='left', va='baseline', fontsize=16, fontweight='bold',
         color='#7F7F7F', family=['Liberation Sans', 'DejaVu Sans'])

fig.savefig('out.png', dpi=100, facecolor=CYAN)
